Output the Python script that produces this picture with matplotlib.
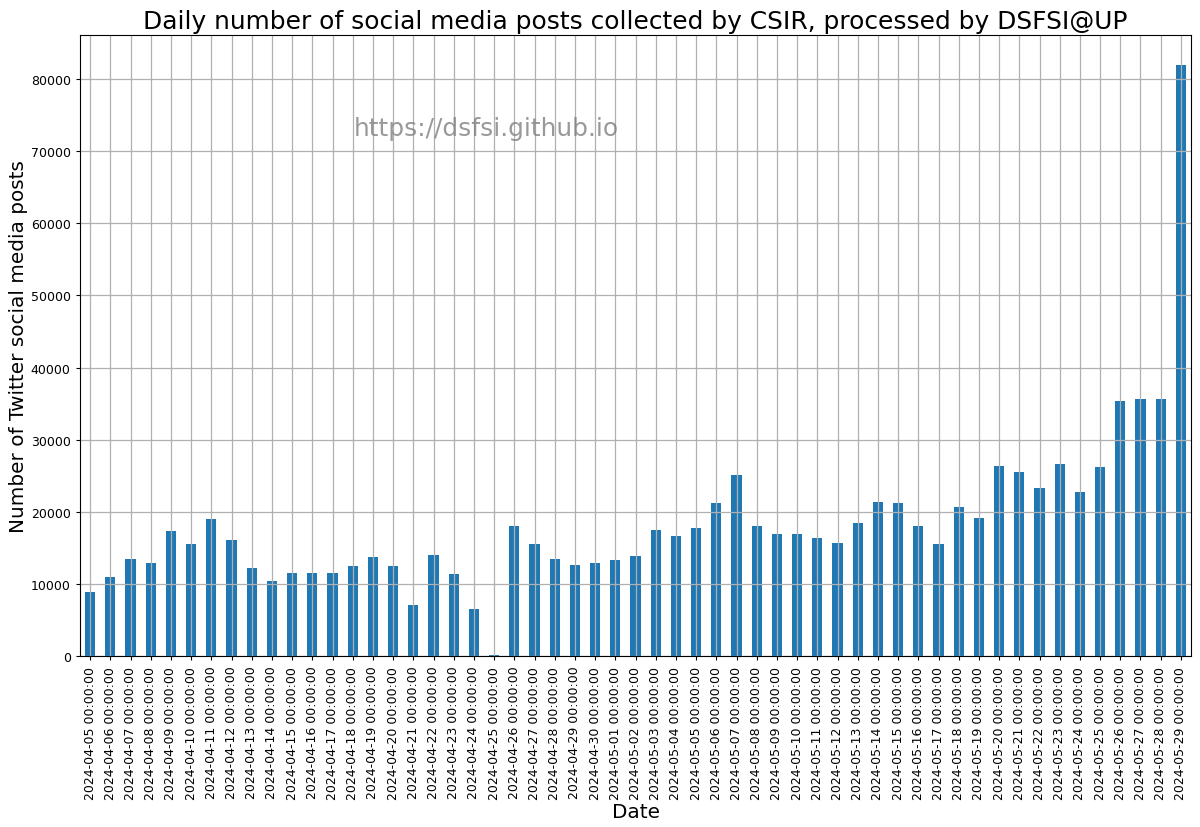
import matplotlib

matplotlib.use("Agg")

import matplotlib.pyplot as plt
import pandas as pd

start_date = "2024-04-05"
end_date = "2024-05-29"
daily_posts = [
    8900, 11000, 13500, 13000, 17300, 15600, 19000, 16100, 12200, 10500,
    11600, 11500, 11500, 12500, 13800, 12500, 7100, 14000, 11400, 6600,
    150, 18000, 15500, 13500, 12700, 12900, 13300, 13900, 17500, 16700,
    17800, 21200, 25100, 18000, 17000, 16900, 16400, 15700, 18500, 21400,
    21200, 18000, 15600, 20700, 19200, 26400, 25500, 23300, 26600, 22700,
    26200, 35300, 35600, 35600, 81900,
]

counts = pd.Series(daily_posts, index=pd.date_range(start_date, end_date, freq="D"))

fig = plt.figure(figsize=(12, 8.28), dpi=100)
ax = fig.add_axes([80 / 1200, 1 - 657.4 / 828, 1111 / 1200, 621 / 828])
counts.plot(kind="bar", ax=ax, color="#1f77b4")
ax.grid(True, linewidth=0.9)
ax.tick_params(labelsize=9, length=3.2)
ax.set_title("Daily number of social media posts collected by CSIR, processed by DSFSI@UP",
             fontsize=17.9, pad=5)
ax.set_xlabel("Date", fontsize=14.4)
ax.xaxis.set_label_coords(0.5, -0.235)
ax.set_ylabel("Number of Twitter social media posts", fontsize=14.4)
ax.yaxis.set_label_coords(-0.0468, 0.5)
ax.text(0.246, 0.840, "https://dsfsi.github.io", transform=ax.transAxes,
        fontsize=17.9, color="gray", alpha=0.8)
fig.savefig("out.png")
plt.close(fig)
